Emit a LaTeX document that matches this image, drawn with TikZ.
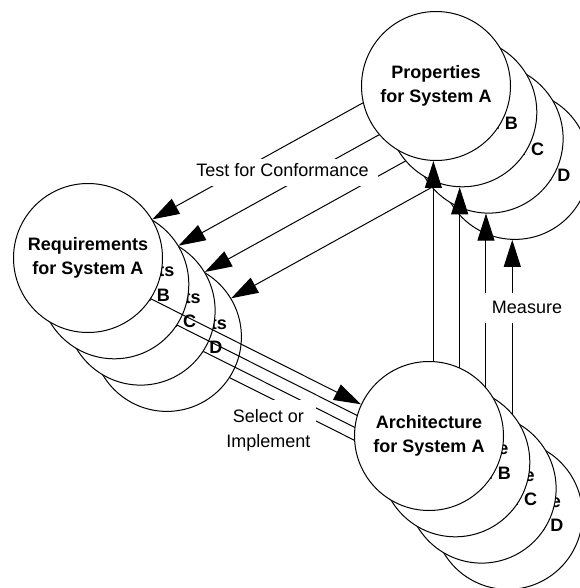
\documentclass[tikz,border=0pt]{standalone}
\usepackage{fontspec}
\setmainfont{Liberation Sans}
\usetikzlibrary{arrows.meta}
\begin{document}
\begin{tikzpicture}[x=1pt,y=-1pt,
  sys/.style={circle,draw,fill=white,line width=1pt,minimum size=149pt,inner sep=0pt,
    align=center,font=\bfseries\fontsize{18}{24.5}\selectfont},
  arr/.style={line width=1pt,-{Triangle[length=27pt,width=17pt]}},
  lbl/.style={fill=white,font=\fontsize{18}{24.5}\selectfont}]
\useasboundingbox (0,0) rectangle (579,588);
\foreach \s/\k in {D/3,C/2,B/1,A/0}{
  \node[sys] (Rq\s) at (88+26.3*\k, 258+26.3*\k) {Requirements\\for System \s};
  \node[sys] (Pr\s) at (436+26.3*\k, 86+26.3*\k) {Properties\\for System \s};
  \node[sys] (Ar\s) at (429+26.3*\k, 436+26.3*\k) {Architecture\\for System \s};
  \draw[arr] (Pr\s.193) -- (Rq\s.31);
  \draw[arr] (Rq\s.-33) -- (Ar\s.155);
  \draw[arr] (Ar\s.north -| Pr\s.268) -- (Pr\s.268);
}
\node[lbl,anchor=base,text height=13pt,text depth=5.5pt,inner xsep=9pt,inner ysep=4pt]
  (test) at (282.5,176) {Test for Conformance};
\node[lbl,anchor=base,text height=13pt,text depth=3pt,inner xsep=9pt,inner ysep=7pt]
  (meas) at (527,313.3) {Measure};
\node[lbl,anchor=north,align=center,inner xsep=6pt,inner ysep=9.5pt]
  (sel) at (268.3,400) {Select or\\Implement};
\end{tikzpicture}
\end{document}
